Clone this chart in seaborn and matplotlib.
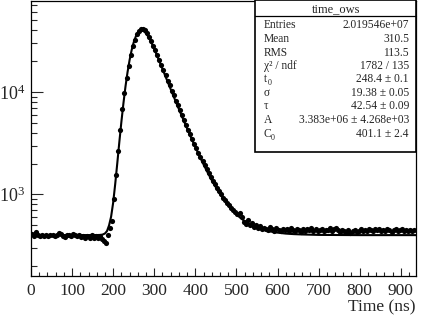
import numpy as np
import matplotlib
matplotlib.use('Agg')
import matplotlib.pyplot as plt
import matplotlib.ticker as mticker
from matplotlib.patches import Rectangle
import seaborn as sns

# histogram: 5 ns bins from 0 to 935 ns
bin_width = 5.0
time_ns = np.arange(bin_width / 2, 935, bin_width)

counts_baseline = [412, 396, 428, 404, 393, 399, 391, 402, 394, 406,
                   399, 389, 403, 421, 410, 396, 386, 398, 403, 391,
                   411, 404, 397, 400, 387, 394, 375, 392, 379, 399,
                   372, 394, 377, 397, 366, 352]
counts_rise = [337, 400, 470, 553, 900, 1540, 2640, 4300, 6760, 9780,
               13600, 18100, 23100, 28000, 32400, 36500, 39300, 41000, 41500, 40300]
counts_decay = [37200, 34400, 31500, 28400, 25600, 22900, 20400, 18200, 16300, 14500,
                12900, 11600, 10300, 9250, 8250, 7400, 6600, 5950, 5300, 4800,
                4300, 3850, 3500, 3130, 2840, 2560, 2330, 2100, 1930, 1760,
                1620, 1490, 1360, 1270, 1150, 1080, 1010, 930, 880, 830,
                790, 740, 700, 670, 640, 655, 600, 540, 520, 560,
                500, 525, 480, 505, 470, 490, 455, 475]
counts_tail = [465, 448, 480, 455, 440, 470, 452, 436, 462, 448,
               458, 441, 466, 450, 437, 460, 445, 432, 455, 443,
               462, 448, 470, 442, 456, 436, 451, 463, 440, 454,
               446, 468, 438, 457, 472, 449, 430, 453, 441, 428,
               446, 425, 437, 452, 430, 444, 455, 438, 450, 442,
               460, 445, 436, 455, 448, 462, 440, 452, 437, 458,
               446, 434, 451, 462, 440, 449, 457, 438, 450, 444,
               453, 437, 446]
counts = np.array(counts_baseline + counts_rise + counts_decay + counts_tail, dtype=float)

# fitted curve
fit_t = [0, 100, 160, 170, 175, 180, 185, 190, 195, 200,
         205, 210, 215, 220, 225, 230, 235, 240, 245, 250,
         255, 260, 265, 270, 275, 280, 285, 290, 295, 300,
         305, 310, 320, 330, 340, 350, 360, 370, 380, 390,
         400, 410, 420, 430, 440, 450, 460, 470, 480, 490,
         500, 510, 520, 530, 540, 550, 560, 570, 580, 590,
         600, 620, 640, 660, 680, 700, 750, 800, 937]
fit_val = [401, 401, 401.5, 403, 407, 416, 439, 499, 607, 831,
           1266, 2011, 3241, 5106, 7757, 11314, 15608, 20517, 25635, 30542,
           34717, 37803, 39565, 39952, 39132, 37332, 34866, 32094, 29144, 26269,
           23561, 21075, 16782, 13354, 10644, 8497, 6802, 5461, 4401, 3563,
           2901, 2377, 1963, 1636, 1377, 1173, 1011, 883, 782, 702,
           639, 589, 550, 519, 494, 475, 459, 447, 437, 430,
           424, 415, 410, 407, 405, 403, 402, 401, 401]

# (label, subscript) pairs for the stats box
stats_labels = [('Entries', ''), ('Mean', ''), ('RMS', ''), ('χ² / ndf', ''), ('t', '0'),
                ('σ', ''), ('τ', ''), ('A', ''), ('C', '0')]
stats_values = ['2.019546e+07', '310.5', '113.5', '1782 / 135', '248.4 ± 0.1',
                '19.38 ± 0.05', '42.54 ± 0.09', '3.383e+06 ± 4.268e+03',
                '401.1 ± 2.4']
stats_rows_px = [25, 39, 52.5, 66, 79.5, 93, 106, 120, 134]

sns.set_style('ticks')
plt.rcParams['font.family'] = ['Liberation Serif', 'DejaVu Serif']
plt.rcParams['mathtext.fontset'] = 'custom'
plt.rcParams['mathtext.rm'] = 'Liberation Serif'
plt.rcParams['mathtext.it'] = 'Liberation Serif'
plt.rcParams['mathtext.bf'] = 'Liberation Serif:bold'

fig = plt.figure(figsize=(4.25, 3.17), dpi=100)
ax = fig.add_axes([0.0729, 0.1293, 0.9059, 0.8690])

sns.scatterplot(x=time_ns, y=counts, color='black', s=14, linewidth=0, ax=ax, zorder=3)
sns.lineplot(x=fit_t, y=fit_val, color='black', linewidth=1.5, ax=ax, zorder=4)

ax.set_yscale('log')
ax.set_xlim(0, 937)
ax.set_ylim(160, 78000)

ax.xaxis.set_major_locator(mticker.MultipleLocator(100))
ax.xaxis.set_minor_locator(mticker.MultipleLocator(20))
ax.yaxis.set_major_locator(mticker.LogLocator(base=10, numticks=10))
ax.yaxis.set_minor_locator(mticker.LogLocator(base=10, subs=np.arange(2, 10), numticks=20))
ax.yaxis.set_minor_formatter(mticker.NullFormatter())
ax.yaxis.set_major_formatter(mticker.FuncFormatter(lambda v, p: r'$10^{%d}$' % round(np.log10(v))))

ax.tick_params(axis='x', which='major', direction='in', length=5.5, width=0.8,
               labelsize=12.5, pad=5, top=False)
ax.tick_params(axis='x', which='minor', direction='in', length=2.9, width=0.8, top=False)
ax.tick_params(axis='y', which='major', direction='in', length=8.4, width=0.8,
               labelsize=13, pad=4, right=False)
ax.tick_params(axis='y', which='minor', direction='in', length=4.3, width=0.8, right=False)
for s in ax.spines.values():
    s.set_linewidth(0.9)
    s.set_color('black')

ax.set_xlabel('Time (ns)', fontsize=12.5, loc='right', labelpad=0)
ax.set_ylabel('')

# stats box
bx0, bx1 = 255.3 / 425, 416 / 425
by1, by0 = 1.0, 1 - 151.7 / 317
fig.patches.append(Rectangle((bx0, by0), bx1 - bx0, by1 - by0, transform=fig.transFigure,
                             facecolor='white', edgecolor='black', linewidth=1.2, zorder=10))
sep_y = 1 - 16 / 317
fig.lines.append(plt.Line2D([bx0, bx1], [sep_y, sep_y], transform=fig.transFigure,
                            color='black', linewidth=0.9, zorder=11))
fig.text((bx0 + bx1) / 2, 1 - 9 / 317, 'time_ows', ha='center', va='center',
         fontsize=9, zorder=12)
for (lab, sub), val, yy in zip(stats_labels, stats_values, stats_rows_px):
    fig.text(263.5 / 425, 1 - yy / 317, lab, ha='left', va='center', fontsize=8.3, zorder=12)
    if sub:
        off = 4.5 if lab == 't' else 7
        fig.text((263.5 + off) / 425, 1 - (yy + 3.5) / 317, sub, ha='left', va='center',
                 fontsize=5.8, zorder=12)
    fig.text(409 / 425, 1 - yy / 317, val, ha='right', va='center', fontsize=8.3, zorder=12)

fig.savefig('out.png', dpi=100)
